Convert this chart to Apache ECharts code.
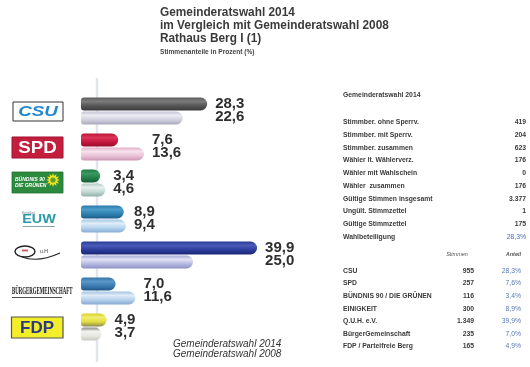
<!DOCTYPE html>
<html><head><meta charset="utf-8">
<script src="https://cdn.jsdelivr.net/npm/echarts@6/dist/echarts.min.js"></script>
<style>html,body{margin:0;padding:0;background:#fff}#c{width:530px;height:367px}</style>
</head><body><div id="c"></div>
<script>
// ---- data ----
const parties = ['CSU', 'SPD', 'BÜNDNIS 90 / DIE GRÜNEN', 'EUW', 'Q.U.H.', 'BürgerGemeinschaft', 'FDP'];
const share2014 = [28.3, 7.6, 3.4, 8.9, 39.9, 7.0, 4.9];
const share2008 = [22.6, 13.6, 4.6, 9.4, 25.0, 11.6, 3.7];
const seriesNames = ['Gemeinderatswahl 2014', 'Gemeinderatswahl 2008'];
const titleLines = ['Gemeinderatswahl 2014', 'im Vergleich mit Gemeinderatswahl 2008', 'Rathaus Berg I (1)'];
const subTitle = 'Stimmenanteile in Prozent (%)';
const tableTitle = 'Gemeinderatswahl 2014';
const statLabels = ['Stimmber. ohne Sperrv.', 'Stimmber. mit Sperrv.', 'Stimmber. zusammen', 'Wähler lt. Wählerverz.', 'Wähler mit Wahlschein', 'Wähler  zusammen', 'Gültige Stimmen insgesamt', 'Ungült. Stimmzettel', 'Gültige Stimmzettel', 'Wahlbeteiligung'];
const statValues = ['419', '204', '623', '176', '0', '176', '3.377', '1', '175', '28,3%'];
const tableHeaders = ['Stimmen', 'Anteil'];
const tablePartyNames = ['CSU', 'SPD', 'BÜNDNIS 90 / DIE GRÜNEN', 'EINIGKEIT', 'Q.U.H. e.V.', 'BürgerGemeinschaft', 'FDP / Parteifreie Berg'];
const tableVotes = ['955', '257', '116', '300', '1.349', '235', '165'];
const tableShares = ['28,3%', '7,6%', '3,4%', '8,9%', '39,9%', '7,0%', '4,9%'];

// ---- styles ----
const col2014 = [
  ['#5c5c5c', '#7c7c7c', '#545454', '#3c3c3c'],
  ['#b81438', '#dc3458', '#c41840', '#9a0c2c'],
  ['#1e7a44', '#3a9a62', '#22804a', '#145e34'],
  ['#2a78a8', '#4e9cc8', '#2e80b0', '#1c5c8a'],
  ['#2a3894', '#4a5cb8', '#2c3c9c', '#1a2674'],
  ['#3474a8', '#5a96c8', '#3a7cb0', '#24588a'],
  ['#d8d030', '#f2ee70', '#e2dc40', '#8a8a50']
];
const col2008 = [
  ['#c4c4d4', '#ececf4', '#d0d0de', '#a8a8bc'],
  ['#e2b0c8', '#f6e2ee', '#eac2d6', '#cc98b4'],
  ['#b0ccc4', '#e6f0ee', '#c2d8d2', '#90b0a8'],
  ['#a2c6e4', '#e0eef9', '#b4d2ec', '#86acd4'],
  ['#a4a8d6', '#e0e2f4', '#b6b9e0', '#8a8ec4'],
  ['#a4c2e2', '#e0ecf8', '#b6d0ec', '#88a8d2'],
  ['#8a8a84', '#f2f2ee', '#e8e8e2', '#c8c8c0']
];
const FONT = "'Liberation Sans', Arial, sans-serif";
function grad(c) {
  return new echarts.graphic.LinearGradient(0, 0, 0, 1, [
    { offset: 0, color: c[0] }, { offset: 0.3, color: c[1] },
    { offset: 0.65, color: c[2] }, { offset: 1, color: c[3] }]);
}
const fmt = v => v.toFixed(1).replace('.', ',');

function barRenderer(cols, upper) {
  return function (params, api) {
    const v = api.value(0), i = api.value(1);
    const p0 = api.coord([0, i]), p1 = api.coord([v, i]);
    const x0 = p0[0] - 4.5;
    const y = upper ? p0[1] - 13.5 : p0[1] + 0.5;
    return {
      type: 'rect',
      shape: { x: x0, y: y, width: p1[0] - x0, height: 13, r: [3, 6.5, 6.5, 3] },
      style: { fill: grad(cols[i]) }
    };
  };
}

// ---- decorations (logos, table, titles) ----
const g = [];
g.push({ type: 'line', z: -10, shape: { x1: 97, y1: 78, x2: 97, y2: 362 }, style: { stroke: '#e3e5ee', lineWidth: 2.5 } });
titleLines.forEach((t, k) => g.push({ type: 'text', x: 160, y: 12 + k * 13.3, scaleX: 0.91,
  style: { text: t, font: "bold 13px " + FONT, fill: '#3a3a3a', verticalAlign: 'middle' } }));
g.push({ type: 'text', x: 160, y: 52, style: { text: subTitle, font: "bold 6.6px " + FONT, fill: '#444', verticalAlign: 'middle' } });

// logos
g.push({ type: 'rect', shape: { x: 13, y: 102, width: 50, height: 19 }, style: { fill: '#fff', stroke: '#333', lineWidth: 1 } });
g.push({ type: 'text', x: 38, y: 112, scaleX: 1.25, style: { text: 'CSU', font: "italic 900 15px " + FONT, fill: '#2289cf', align: 'center', verticalAlign: 'middle' } });
g.push({ type: 'rect', shape: { x: 12, y: 137, width: 51, height: 21 }, style: { fill: '#c41e3f', stroke: '#a01030', lineWidth: 1 } });
g.push({ type: 'text', x: 37.5, y: 148, scaleX: 1.1, style: { text: 'SPD', font: "bold 17px " + FONT, fill: '#fff', align: 'center', verticalAlign: 'middle' } });
g.push({ type: 'rect', shape: { x: 12, y: 172, width: 51, height: 21 }, style: { fill: '#2b8a3e', stroke: '#1e6e30', lineWidth: 0.8 } });
g.push({ type: 'text', x: 15, y: 183, style: { text: 'BÜNDNIS 90\nDIE GRÜNEN', font: "italic bold 5px " + FONT, lineHeight: 6, fill: '#fff', verticalAlign: 'middle' } });
(function () {
  const pts = []; const cx = 53, cy = 180;
  for (let k = 0; k < 24; k++) { const r = k % 2 ? 4.2 : 7; const a = k * Math.PI / 12; pts.push([cx + r * Math.cos(a), cy + r * Math.sin(a)]); }
  g.push({ type: 'polygon', shape: { points: pts }, style: { fill: '#f2e21a' } });
  g.push({ type: 'circle', shape: { cx: cx, cy: cy, r: 2.6 }, style: { fill: '#5a9e36' } });
})();
g.push({ type: 'text', x: 22, y: 213.5, style: { text: 'Einigkeit', font: "3.5px " + FONT, fill: '#7a8a90', verticalAlign: 'middle' } });
g.push({ type: 'text', x: 39, y: 220, scaleX: 1.2, style: { text: 'EUW', font: "bold 12px " + FONT, fill: '#2a9aa8', align: 'center', verticalAlign: 'middle' } });
g.push({ type: 'line', shape: { x1: 23, y1: 226.5, x2: 55, y2: 226.5 }, style: { stroke: '#8aa4b0', lineWidth: 1 } });
g.push({ type: 'ellipse', shape: { cx: 25, cy: 251.5, rx: 10, ry: 5.5 }, style: { fill: 'none', stroke: '#222', lineWidth: 1.4 } });
g.push({ type: 'bezierCurve', shape: { x1: 22, y1: 257, cpx1: 38, cpy1: 263, x2: 60, y2: 253 }, style: { fill: 'none', stroke: '#222', lineWidth: 1.2 } });
g.push({ type: 'rect', shape: { x: 22, y: 249.5, width: 6, height: 2 }, style: { fill: '#d06060' } });
g.push({ type: 'text', x: 40, y: 252, style: { text: 'u.H', font: "5px " + FONT, fill: '#333', verticalAlign: 'middle' } });
g.push({ type: 'text', x: 12, y: 291.5, scaleX: 0.44, style: { text: 'BÜRGERGEMEINSCHAFT', font: "bold 11px 'Liberation Serif', serif", fill: '#111', verticalAlign: 'middle' } });
g.push({ type: 'line', shape: { x1: 12, y1: 297.5, x2: 62, y2: 297.5 }, style: { stroke: '#222', lineWidth: 0.8 } });
g.push({ type: 'rect', shape: { x: 11.5, y: 317, width: 51.5, height: 21 }, style: { fill: '#f4ee2a', stroke: '#555', lineWidth: 1.2 } });
g.push({ type: 'text', x: 37, y: 328, style: { text: 'FDP', font: "bold 17px " + FONT, fill: '#2b3a86', align: 'center', verticalAlign: 'middle' } });

// legend text
seriesNames.forEach((t, k) => g.push({ type: 'text', x: 173, y: 344 + k * 10, style: { text: t, font: "italic 10px " + FONT, fill: '#333', verticalAlign: 'middle' } }));

// table
const TF = "bold 6.8px " + FONT;
g.push({ type: 'text', x: 343, y: 95, style: { text: tableTitle, font: TF, fill: '#3a3a3a', verticalAlign: 'middle' } });
statLabels.forEach((t, k) => {
  const y = 122.5 + k * 12.7;
  g.push({ type: 'text', x: 343, y: y, style: { text: t, font: TF, fill: '#3a3a3a', verticalAlign: 'middle' } });
  const last = k === statLabels.length - 1;
  g.push({ type: 'text', x: 526, y: y, style: { text: statValues[k], font: last ? "6.8px " + FONT : TF, fill: last ? '#4a6ab0' : '#3a3a3a', align: 'right', verticalAlign: 'middle' } });
});
g.push({ type: 'text', x: 457, y: 254, style: { text: tableHeaders[0], font: "italic 5.5px " + FONT, fill: '#555', align: 'center', verticalAlign: 'middle' } });
g.push({ type: 'text', x: 521, y: 254, style: { text: tableHeaders[1], font: "italic bold 5.5px " + FONT, fill: '#555', align: 'right', verticalAlign: 'middle' } });
tablePartyNames.forEach((t, k) => {
  const y = 271 + k * 12.6;
  g.push({ type: 'text', x: 343, y: y, style: { text: t, font: TF, fill: '#3a3a3a', verticalAlign: 'middle' } });
  g.push({ type: 'text', x: 474, y: y, style: { text: tableVotes[k], font: TF, fill: '#3a3a3a', align: 'right', verticalAlign: 'middle' } });
  g.push({ type: 'text', x: 521, y: y, style: { text: tableShares[k], font: "6.8px " + FONT, fill: '#5a78b4', align: 'right', verticalAlign: 'middle' } });
});

const chart = echarts.init(document.getElementById('c'), null, { renderer: 'canvas' });
chart.setOption({
  animation: false,
  backgroundColor: '#ffffff',
  grid: { left: 85.5, top: 93, width: 172, height: 252 },
  xAxis: { type: 'value', min: 0, max: 40, show: false },
  yAxis: { type: 'category', data: parties, inverse: true, show: false },
  graphic: { elements: g },
  series: [
    { type: 'custom', name: seriesNames[0], encode: { x: 0, y: 1 }, renderItem: barRenderer(col2014, true),
      data: share2014.map((v, i) => [v, i]) },
    { type: 'custom', name: seriesNames[1], encode: { x: 0, y: 1 }, renderItem: barRenderer(col2008, false),
      data: share2008.map((v, i) => [v, i]) },
    { type: 'custom', name: 'labels', encode: { x: 0, y: 1 },
      data: share2014.map((v, i) => [Math.max(v, share2008[i]), i, v, share2008[i]]),
      renderItem: function (params, api) {
        const p = api.coord([api.value(0), api.value(1)]);
        return { type: 'text', x: p[0] + 8, y: p[1] - 0.5,
          style: { text: fmt(api.value(2)) + '\n' + fmt(api.value(3)), font: "bold 15px " + FONT, lineHeight: 13, fill: '#2e2e2e', verticalAlign: 'middle' } };
      } }
  ]
});
</script></body></html>
